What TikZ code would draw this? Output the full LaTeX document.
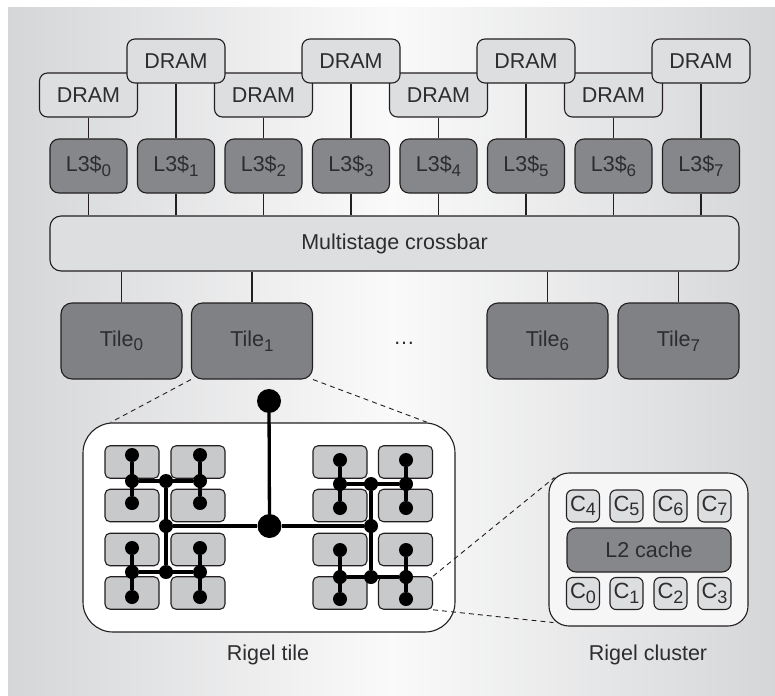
\documentclass[tikz,border=0pt]{standalone}
\usepackage{fontspec}
\setmainfont{Liberation Sans}

\definecolor{bgside}{RGB}{213,214,216}
\definecolor{bgmid}{RGB}{250,250,250}
\definecolor{linecol}{RGB}{35,31,32}
\definecolor{textcol}{RGB}{45,45,47}
\definecolor{dramfill}{RGB}{221,222,224}
\definecolor{darkfill}{RGB}{134,135,138}
\definecolor{tilefill}{RGB}{128,129,132}
\definecolor{cellfill}{RGB}{200,201,203}
\definecolor{clusterfill}{RGB}{246,246,246}

\newcommand\lab{\fontsize{21.5}{25}\selectfont}
\newcommand\corelab{\fontsize{22}{26}\selectfont}
% big, dropped subscripts as in the figure
\newcommand\idx[1]{\raisebox{-4.5pt}{\fontsize{17}{17}\selectfont #1}}
\newcommand\coreidx[1]{\raisebox{-4.5pt}{\fontsize{18}{18}\selectfont #1}}

\tikzset{
    blk/.style={draw=linecol, line width=1.1pt, rounded corners=8pt, inner sep=0pt, text=textcol, font=\lab},
    dram/.style={blk, fill=dramfill, minimum width=98pt, minimum height=44pt},
    lcache/.style={blk, fill=darkfill, minimum width=77pt, minimum height=54pt, rounded corners=9pt},
    tilebox/.style={blk, fill=tilefill, minimum width=121pt, minimum height=76pt, rounded corners=11pt},
    cell/.style={blk, fill=cellfill, minimum width=54pt, minimum height=32.5pt, rounded corners=5pt},
    corebox/.style={blk, fill=dramfill, minimum width=33pt, minimum height=32pt, rounded corners=6pt, font=\corelab},
    netdot/.style={circle, fill=black, inner sep=0pt, minimum size=14pt},
    hubdot/.style={netdot, minimum size=24pt},
    wire/.style={draw=linecol, line width=1.1pt},
    bus/.style={draw=black, line width=3.3pt},
    zoomline/.style={draw=linecol, line width=0.9pt, dash pattern=on 5pt off 4pt},
    caption/.style={text=textcol, font=\lab},
}

\begin{document}
\begin{tikzpicture}[x=1pt, y=-1pt]
    % layout is in pixels of the reference, y going down
    \useasboundingbox (0,0) rectangle (775,695);
    \shade[left color=bgside, right color=bgside, middle color=bgmid] (8,8) rectangle (775,695);

    % DRAM row:
    % - even ones sit low, odd ones high
    % - odd ones drawn last so they overlap the even ones
    \foreach \i in {0,2,4,6}
        \node[dram] (dram\i) at (88.5+87.5*\i, 95) {DRAM};
    \foreach \i in {1,3,5,7}
        \node[dram] (dram\i) at (88.5+87.5*\i, 61) {DRAM};

    % L3 banks, one under each DRAM
    \foreach \i in {0,...,7} {
        \node[lcache] (cache\i) at (88.5+87.5*\i, 166) {L3\$\idx{\i}};
        \draw[wire] (dram\i) -- (cache\i);
    }

    \node[blk, fill=dramfill, minimum width=689pt, minimum height=55pt, rounded corners=11pt]
        (xbar) at (394.5,243.5) {Multistage crossbar};
    \foreach \i in {0,...,7}
        \draw[wire] (cache\i) -- (cache\i |- xbar.north);

    % tiles, 2..5 left out
    \node[tilebox] (tile0) at (121.5,341) {Tile\idx{0}};
    \node[tilebox] (tile1) at (252,341) {Tile\idx{1}};
    \node[tilebox] (tile6) at (547.5,341) {Tile\idx{6}};
    \node[tilebox] (tile7) at (678.5,341) {Tile\idx{7}};
    \node[caption] (skip) at (404,343) {\dots};
    \foreach \t in {0,1,6,7}
        \draw[wire] (xbar.south -| tile\t.north) -- (tile\t);

    % zoom into tile 1
    \node[blk, fill=white, minimum width=372pt, minimum height=209pt, rounded corners=30pt]
        (rtile) at (269,527.5) {};
    \draw[zoomline] (tile1.south west) -- ([xshift=28pt]rtile.north west);
    \draw[zoomline] (tile1.south east) -- ([xshift=-28pt]rtile.north east);

    % clusters: two columns (a, b) of four rows per side
    \foreach \g/\xa/\xb in {l/132/198, r/340/405.5}
        \foreach \row/\y in {1/462, 2/505.5, 3/549.5, 4/593} {
            \node[cell] (\g a\row) at (\xa,\y) {};
            \node[cell] (\g b\row) at (\xb,\y) {};
        }

    % tree network on top of the clusters
    \node[hubdot] (htop) at (269,401) {};
    \node[hubdot] (hub) at (269.5,526) {};
    \draw[bus] (htop) -- (hub);
    \foreach \g/\xa/\xm/\xb/\ua/\uj/\ub/\da/\dj/\db in
            {l/132/166/200/455/481/503/548/572/597, r/340/371/406/460/484/508/550/577/599} {
        \node[netdot] (\g c) at (\xm,526) {};
        \draw[bus] (\g c) -- (hub);
        \foreach \p/\ytop/\yj/\ybot in {u/\ua/\uj/\ub, d/\da/\dj/\db} {
            \node[netdot] (\g\p m) at (\xm,\yj) {};
            \node[netdot] (\g\p a) at (\xa,\yj) {};
            \node[netdot] (\g\p b) at (\xb,\yj) {};
            \node[netdot] (\g\p at) at (\xa,\ytop) {};
            \node[netdot] (\g\p ab) at (\xa,\ybot) {};
            \node[netdot] (\g\p bt) at (\xb,\ytop) {};
            \node[netdot] (\g\p bb) at (\xb,\ybot) {};
            \draw[bus] (\g\p a) -- (\g\p b);
            \draw[bus] (\g\p at) -- (\g\p ab);
            \draw[bus] (\g\p bt) -- (\g\p bb);
        }
        \draw[bus] (\g um) -- (\g dm);
    }

    % zoom into one cluster
    \node[blk, fill=clusterfill, minimum width=199pt, minimum height=153pt, rounded corners=20pt]
        (cluster) at (648.5,549.5) {};
    \foreach \i/\x in {0/583, 1/626.5, 2/670.5, 3/714.5}
        \node[corebox] (core\i) at (\x,593.5) {C\coreidx{\i}};
    \foreach \i/\x in {4/583, 5/626.5, 6/670.5, 7/714.5}
        \node[corebox] (core\i) at (\x,506) {C\coreidx{\i}};
    \node[blk, fill=darkfill, minimum width=164pt, minimum height=44pt, rounded corners=9pt]
        (ltwo) at (649,550) {L2 cache};
    \draw[zoomline] (rb4.north east) -- ([shift={(6pt,-5pt)}]cluster.north west);
    \draw[zoomline] (rb4.south east) -- ([shift={(5pt,4pt)}]cluster.south west);

    \node[caption] (tilecap) at (268,655) {Rigel tile};
    \node[caption] (clustercap) at (648,655) {Rigel cluster};
\end{tikzpicture}
\end{document}
